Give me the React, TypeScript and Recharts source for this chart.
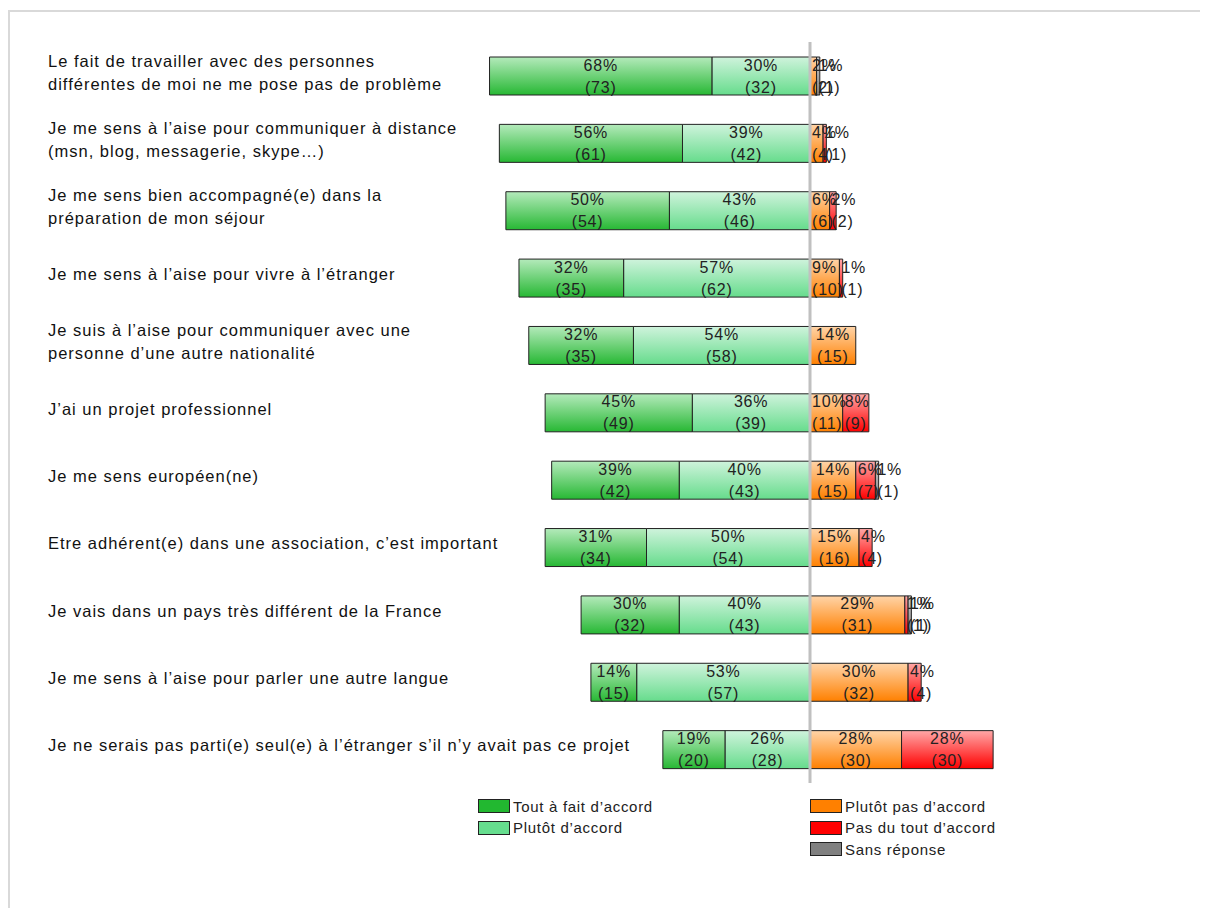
import React from "react";
import { BarChart, Bar, XAxis, YAxis, ReferenceLine, LabelList } from "recharts";

const categories = [
  "Le fait de travailler avec des personnes\ndifférentes de moi ne me pose pas de problème",
  "Je me sens à l’aise pour communiquer à distance\n(msn, blog, messagerie, skype…)",
  "Je me sens bien accompagné(e) dans la\npréparation de mon séjour",
  "Je me sens à l’aise pour vivre à l’étranger",
  "Je suis à l’aise pour communiquer avec une\npersonne d’une autre nationalité",
  "J’ai un projet professionnel",
  "Je me sens européen(ne)",
  "Etre adhérent(e) dans une association, c’est important",
  "Je vais dans un pays très différent de la France",
  "Je me sens à l’aise pour parler une autre langue",
  "Je ne serais pas parti(e) seul(e) à l’étranger s’il n’y avait pas ce projet",
];

// percentages
const toutAFait = [68, 56, 50, 32, 32, 45, 39, 31, 30, 14, 19];
const plutotAccord = [30, 39, 43, 57, 54, 36, 40, 50, 40, 53, 26];
const plutotPas = [2, 4, 6, 9, 14, 10, 14, 15, 29, 30, 28];
const pasDuTout = [0, 1, 2, 1, 0, 8, 6, 4, 1, 4, 28];
const sansReponse = [1, 0, 0, 0, 0, 0, 1, 0, 1, 0, 0];

// counts
const toutAFaitN = [73, 61, 54, 35, 35, 49, 42, 34, 32, 15, 20];
const plutotAccordN = [32, 42, 46, 62, 58, 39, 43, 54, 43, 57, 28];
const plutotPasN = [2, 4, 6, 10, 15, 11, 15, 16, 31, 32, 30];
const pasDuToutN = [0, 1, 2, 1, 0, 9, 7, 4, 1, 4, 30];
const sansReponseN = [1, 0, 0, 0, 0, 0, 1, 0, 1, 0, 0];

const data = categories.map((name, i) => ({
  name,
  row: i,
  plutot: -plutotAccord[i],
  tout: -toutAFait[i],
  pas: plutotPas[i],
  pasTout: pasDuTout[i],
  sans: sansReponse[i],
}));

const FONT = "'Liberation Sans', Arial, sans-serif";

const rowOf = (entry: any) => {
  const p = entry && entry.payload;
  if (p && typeof p.row === "number") return p.row;
  return -1;
};

const makeLabel = (pcts: number[], counts: number[]) => (props: any) => {
  const { x, y, width, height, value } = props;
  const index = typeof value === "number" ? value : -1;
  if (index < 0) return null;
  const pct = pcts[index];
  if (!pct) return null;
  const left = width < 0 ? x + width : x;
  const w = Math.abs(width);
  const p = `${pct}%`;
  const c = `(${counts[index]})`;
  const tw = Math.max(p.length, c.length) * 9.6;
  const fits = tw <= w;
  const tx = fits ? left + w / 2 : left + 2;
  const anchor = fits ? "middle" : "start";
  const common = {
    textAnchor: anchor,
    dominantBaseline: "central",
    fontSize: 16,
    fontFamily: FONT,
    letterSpacing: 0.8,
    fill: "#222",
  } as any;
  return (
    <g>
      <text x={tx} y={y + 8} {...common}>
        {p}
      </text>
      <text x={tx} y={y + height - 8} {...common}>
        {c}
      </text>
    </g>
  );
};

const tickStyle = { fontSize: 16.5, fontFamily: FONT, letterSpacing: 1, fill: "#111" } as any;

const CategoryTick = (props: any) => {
  const { y, payload } = props;
  const lines = String(payload.value).split("\n");
  if (lines.length === 1) {
    return (
      <text x={40} y={y - 4} dominantBaseline="central" {...tickStyle}>
        {lines[0]}
      </text>
    );
  }
  return (
    <g>
      <text x={40} y={y - 15} dominantBaseline="central" {...tickStyle}>
        {lines[0]}
      </text>
      <text x={40} y={y + 8} dominantBaseline="central" {...tickStyle}>
        {lines[1]}
      </text>
    </g>
  );
};

const legendLeft = [
  { label: "Tout à fait d’accord", color: "#22b830" },
  { label: "Plutôt d’accord", color: "#66dd8e" },
];
const legendRight = [
  { label: "Plutôt pas d’accord", color: "#ff8000" },
  { label: "Pas du tout d’accord", color: "#ff0000" },
  { label: "Sans réponse", color: "#808080" },
];

const LegendItem = ({ label, color, x, y }: any) => (
  <div style={{ position: "absolute", left: x, top: y, display: "flex", alignItems: "center", height: 16 }}>
    <div style={{ width: 30, height: 12, background: color, border: "1px solid #222" }} />
    <span
      style={{
        marginLeft: 3,
        fontSize: 15,
        letterSpacing: 0.7,
        fontFamily: FONT,
        color: "#222",
        whiteSpace: "nowrap",
      }}
    >
      {label}
    </span>
  </div>
);

export default function App() {
  return (
    <div style={{ position: "relative", width: 1200, height: 900 }}>
      <div
        style={{
          position: "absolute",
          left: 0,
          top: 2,
          width: 1198,
          height: 899,
          borderTop: "2px solid #d9d9d9",
          borderLeft: "2px solid #d9d9d9",
        }}
      />
      <div style={{ position: "absolute", left: 0, top: 0 }}>
        <BarChart
          width={1200}
          height={900}
          data={data}
          layout="vertical"
          stackOffset="sign"
          barSize={38}
          margin={{ top: 34, right: 71, bottom: 125, left: 0 }}
        >
          <defs>
            <linearGradient id="gTout" x1="0" y1="0" x2="0" y2="1">
              <stop offset="0%" stopColor="#b4eabb" />
              <stop offset="100%" stopColor="#27b834" />
            </linearGradient>
            <linearGradient id="gPlutot" x1="0" y1="0" x2="0" y2="1">
              <stop offset="0%" stopColor="#cff3dc" />
              <stop offset="100%" stopColor="#66dc8c" />
            </linearGradient>
            <linearGradient id="gPas" x1="0" y1="0" x2="0" y2="1">
              <stop offset="0%" stopColor="#ffd4a8" />
              <stop offset="100%" stopColor="#ff8000" />
            </linearGradient>
            <linearGradient id="gPasTout" x1="0" y1="0" x2="0" y2="1">
              <stop offset="0%" stopColor="#ffa8a8" />
              <stop offset="100%" stopColor="#ff0000" />
            </linearGradient>
            <linearGradient id="gSans" x1="0" y1="0" x2="0" y2="1">
              <stop offset="0%" stopColor="#cfcfcf" />
              <stop offset="100%" stopColor="#808080" />
            </linearGradient>
          </defs>
          <XAxis type="number" domain={[-100, 100]} hide />
          <YAxis
            type="category"
            dataKey="name"
            width={475}
            axisLine={false}
            tickLine={false}
            tick={<CategoryTick />}
            interval={0}
          />
          <Bar dataKey="plutot" stackId="s" fill="url(#gPlutot)" stroke="#222" strokeWidth={1} isAnimationActive={false}>
            <LabelList valueAccessor={rowOf} content={makeLabel(plutotAccord, plutotAccordN)} />
          </Bar>
          <Bar dataKey="tout" stackId="s" fill="url(#gTout)" stroke="#222" strokeWidth={1} isAnimationActive={false}>
            <LabelList valueAccessor={rowOf} content={makeLabel(toutAFait, toutAFaitN)} />
          </Bar>
          <Bar dataKey="pas" stackId="s" fill="url(#gPas)" stroke="#222" strokeWidth={1} isAnimationActive={false}>
            <LabelList valueAccessor={rowOf} content={makeLabel(plutotPas, plutotPasN)} />
          </Bar>
          <Bar dataKey="pasTout" stackId="s" fill="url(#gPasTout)" stroke="#222" strokeWidth={1} isAnimationActive={false}>
            <LabelList valueAccessor={rowOf} content={makeLabel(pasDuTout, pasDuToutN)} />
          </Bar>
          <Bar dataKey="sans" stackId="s" fill="url(#gSans)" stroke="#222" strokeWidth={1} isAnimationActive={false}>
            <LabelList valueAccessor={rowOf} content={makeLabel(sansReponse, sansReponseN)} />
          </Bar>
          <ReferenceLine x={0} stroke="#c0c0c0" strokeWidth={3} />
        </BarChart>
      </div>
      {legendLeft.map((it, i) => (
        <LegendItem key={it.label} label={it.label} color={it.color} x={470} y={790 + i * 21.5} />
      ))}
      {legendRight.map((it, i) => (
        <LegendItem key={it.label} label={it.label} color={it.color} x={802} y={790 + i * 21.5} />
      ))}
    </div>
  );
}
